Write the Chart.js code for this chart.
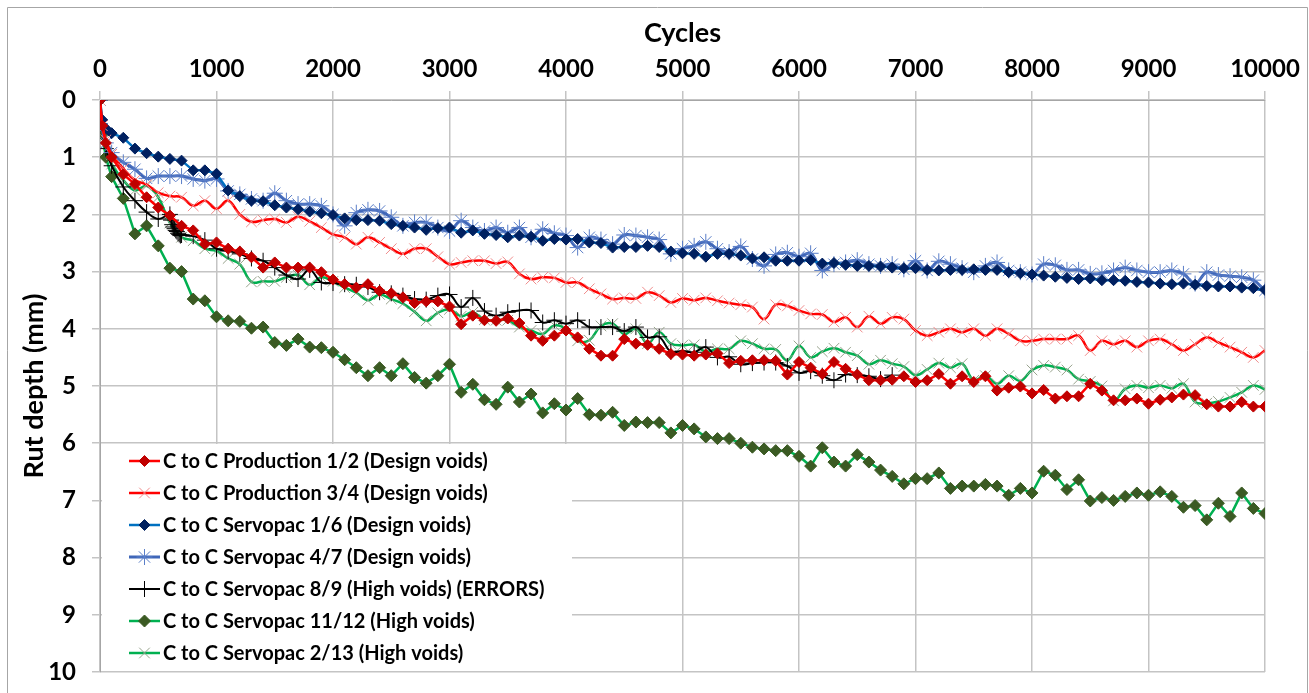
<!DOCTYPE html>
<html>
<head>
<meta charset="utf-8">
<script src="https://cdn.jsdelivr.net/npm/chart.js@4/dist/chart.umd.min.js"></script>
<style>
  html, body { margin: 0; padding: 0; background: #fff; }
  #wrap { width: 1309px; height: 693px; }
</style>
</head>
<body>
<div id="wrap"><canvas id="myChart" width="1309" height="693"></canvas></div>
<script>
// cycles at which most series were read
const cycles = [0, 20, 50,
  100, 200, 300, 400, 500, 600, 700, 800, 900, 1000,
  1100, 1200, 1300, 1400, 1500, 1600, 1700, 1800, 1900, 2000,
  2100, 2200, 2300, 2400, 2500, 2600, 2700, 2800, 2900, 3000,
  3100, 3200, 3300, 3400, 3500, 3600, 3700, 3800, 3900, 4000,
  4100, 4200, 4300, 4400, 4500, 4600, 4700, 4800, 4900, 5000,
  5100, 5200, 5300, 5400, 5500, 5600, 5700, 5800, 5900, 6000,
  6100, 6200, 6300, 6400, 6500, 6600, 6700, 6800, 6900, 7000,
  7100, 7200, 7300, 7400, 7500, 7600, 7700, 7800, 7900, 8000,
  8100, 8200, 8300, 8400, 8500, 8600, 8700, 8800, 8900, 9000,
  9100, 9200, 9300, 9400, 9500, 9600, 9700, 9800, 9900, 10000];

// 8/9 has extra readings around 600-700 cycles and stops at 6800
const cycles89 = [0, 20, 50,
  100, 200, 300, 400, 500, 600, 610, 620, 630, 640, 650, 660, 670, 680, 690, 700, 800, 900, 1000,
  1100, 1200, 1300, 1400, 1500, 1600, 1700, 1800, 1900, 2000,
  2100, 2200, 2300, 2400, 2500, 2600, 2700, 2800, 2900, 3000,
  3100, 3200, 3300, 3400, 3500, 3600, 3700, 3800, 3900, 4000,
  4100, 4200, 4300, 4400, 4500, 4600, 4700, 4800, 4900, 5000,
  5100, 5200, 5300, 5400, 5500, 5600, 5700, 5800, 5900, 6000,
  6100, 6200, 6300, 6400, 6500, 6600, 6700, 6800];

const xTicks = [0, 1000, 2000, 3000, 4000, 5000, 6000, 7000, 8000, 9000, 10000];

const prod12 = [0, 0.45, 0.75,
  1.00, 1.30, 1.47, 1.70, 1.88, 2.02, 2.20, 2.28, 2.52, 2.49,
  2.60, 2.65, 2.75, 2.93, 2.84, 2.93, 2.93, 2.93, 3.01, 3.14,
  3.22, 3.28, 3.22, 3.34, 3.38, 3.45, 3.55, 3.52, 3.52, 3.61,
  3.92, 3.77, 3.85, 3.86, 3.82, 3.90, 4.12, 4.21, 4.12, 4.03,
  4.15, 4.35, 4.47, 4.47, 4.18, 4.26, 4.28, 4.35, 4.44, 4.45,
  4.47, 4.45, 4.43, 4.60, 4.56, 4.55, 4.55, 4.56, 4.80, 4.58,
  4.68, 4.79, 4.58, 4.70, 4.80, 4.90, 4.90, 4.89, 4.83, 4.93,
  4.90, 4.79, 4.96, 4.83, 4.93, 4.83, 5.08, 5.03, 5.01, 5.13,
  5.07, 5.22, 5.18, 5.18, 4.96, 5.08, 5.25, 5.25, 5.22, 5.31,
  5.24, 5.20, 5.15, 5.16, 5.32, 5.36, 5.36, 5.28, 5.36, 5.36];

const prod34 = [0, 0.45, 0.70,
  0.95, 1.20, 1.40, 1.48, 1.62, 1.68, 1.70, 1.85, 1.76, 1.90,
  1.76, 2.00, 2.13, 2.10, 2.08, 2.14, 2.04, 2.12, 2.23, 2.35,
  2.40, 2.52, 2.40, 2.49, 2.60, 2.69, 2.60, 2.60, 2.74, 2.87,
  2.84, 2.81, 2.81, 2.86, 2.83, 3.04, 3.13, 3.10, 3.11, 3.19,
  3.19, 3.30, 3.39, 3.48, 3.46, 3.47, 3.36, 3.42, 3.54, 3.47,
  3.50, 3.46, 3.51, 3.55, 3.58, 3.62, 3.83, 3.58, 3.60, 3.68,
  3.74, 3.75, 3.88, 3.80, 3.97, 3.78, 3.91, 3.80, 3.83, 4.03,
  4.12, 4.06, 4.00, 4.06, 4.00, 4.12, 4.00, 4.09, 4.21, 4.21,
  4.18, 4.18, 4.18, 4.12, 4.38, 4.21, 4.27, 4.21, 4.32, 4.21,
  4.18, 4.27, 4.38, 4.27, 4.15, 4.24, 4.32, 4.41, 4.50, 4.38];

const servo16 = [0, 0.35, 0.50,
  0.58, 0.66, 0.85, 0.93, 0.99, 1.03, 1.06, 1.23, 1.23, 1.29,
  1.58, 1.68, 1.76, 1.77, 1.84, 1.88, 1.91, 1.95, 1.98, 2.01,
  2.07, 2.10, 2.10, 2.11, 2.17, 2.20, 2.23, 2.27, 2.24, 2.23,
  2.32, 2.28, 2.34, 2.36, 2.40, 2.37, 2.39, 2.46, 2.43, 2.44,
  2.43, 2.49, 2.50, 2.58, 2.57, 2.57, 2.55, 2.57, 2.65, 2.68,
  2.69, 2.74, 2.69, 2.69, 2.72, 2.77, 2.75, 2.81, 2.81, 2.81,
  2.80, 2.86, 2.85, 2.88, 2.90, 2.90, 2.91, 2.93, 2.94, 2.94,
  2.97, 2.98, 2.97, 2.97, 2.96, 2.97, 2.97, 3.01, 3.03, 3.05,
  3.07, 3.09, 3.11, 3.13, 3.12, 3.15, 3.15, 3.16, 3.18, 3.19,
  3.21, 3.22, 3.21, 3.23, 3.25, 3.26, 3.26, 3.28, 3.29, 3.32];

const servo47 = [0, 0.50, 0.75,
  0.92, 1.09, 1.21, 1.37, 1.33, 1.33, 1.33, 1.38, 1.41, 1.38,
  1.59, 1.65, 1.73, 1.76, 1.63, 1.76, 1.82, 1.82, 1.85, 2.00,
  2.20, 1.97, 1.92, 1.94, 2.05, 2.20, 2.14, 2.14, 2.23, 2.29,
  2.11, 2.23, 2.29, 2.23, 2.32, 2.23, 2.40, 2.26, 2.33, 2.37,
  2.58, 2.40, 2.44, 2.52, 2.36, 2.37, 2.40, 2.44, 2.69, 2.60,
  2.55, 2.48, 2.60, 2.66, 2.56, 2.78, 2.90, 2.70, 2.67, 2.74,
  2.68, 2.98, 2.87, 2.84, 2.80, 2.87, 2.90, 2.87, 2.96, 2.81,
  2.98, 2.82, 2.87, 2.94, 3.01, 2.90, 2.84, 2.98, 3.01, 3.05,
  2.87, 2.89, 2.97, 2.97, 3.04, 3.03, 2.98, 2.93, 2.98, 3.01,
  3.01, 2.98, 3.04, 3.21, 3.01, 3.06, 3.08, 3.10, 3.15, 3.33];

const servo89 = [0, 0.50, 0.85,
  1.15, 1.52, 1.76, 1.96, 2.08, 2.00, 2.10, 2.18, 2.22, 2.25, 2.28, 2.30, 2.33, 2.35, 2.37, 2.36, 2.38, 2.45, 2.60,
  2.64, 2.69, 2.77, 2.81, 2.93, 3.06, 3.13, 2.97, 3.19, 3.20,
  3.22, 3.23, 3.27, 3.36, 3.38, 3.42, 3.48, 3.49, 3.42, 3.40,
  3.62, 3.46, 3.69, 3.77, 3.71, 3.68, 3.68, 3.89, 3.85, 3.91,
  3.85, 3.97, 3.97, 3.97, 4.04, 3.97, 4.15, 4.14, 4.40, 4.39,
  4.41, 4.32, 4.50, 4.49, 4.62, 4.60, 4.59, 4.59, 4.65, 4.77,
  4.74, 4.82, 4.90, 4.80, 4.81, 4.83, 4.88, 4.81];

const servo1112 = [0, 0.60, 1.00,
  1.34, 1.72, 2.34, 2.20, 2.55, 2.94, 3.00, 3.48, 3.51, 3.79,
  3.86, 3.87, 3.99, 3.97, 4.24, 4.29, 4.18, 4.32, 4.33, 4.41,
  4.54, 4.68, 4.82, 4.68, 4.82, 4.61, 4.85, 4.95, 4.82, 4.62,
  5.11, 4.97, 5.24, 5.32, 5.02, 5.28, 5.14, 5.47, 5.31, 5.42,
  5.22, 5.50, 5.51, 5.46, 5.69, 5.63, 5.64, 5.64, 5.82, 5.69,
  5.75, 5.89, 5.92, 5.92, 6.00, 6.07, 6.10, 6.13, 6.13, 6.23,
  6.40, 6.08, 6.33, 6.40, 6.20, 6.33, 6.47, 6.58, 6.71, 6.62,
  6.62, 6.52, 6.79, 6.75, 6.75, 6.72, 6.75, 6.91, 6.79, 6.87,
  6.49, 6.56, 6.81, 6.64, 7.01, 6.95, 7.00, 6.93, 6.87, 6.91,
  6.85, 6.93, 7.12, 7.09, 7.34, 7.05, 7.28, 6.87, 7.14, 7.23];

const servo213 = [0, 0.55, 0.90,
  1.12, 1.40, 1.58, 1.50, 1.70, 2.15, 2.40, 2.46, 2.60, 2.64,
  2.77, 2.87, 3.18, 3.17, 3.17, 3.10, 3.06, 3.23, 3.10, 3.17,
  3.28, 3.37, 3.50, 3.40, 3.48, 3.56, 3.70, 3.86, 3.72, 3.66,
  3.78, 3.71, 3.84, 3.85, 3.85, 3.97, 4.03, 4.09, 3.94, 4.00,
  4.21, 4.20, 3.95, 3.91, 4.09, 4.00, 4.26, 4.06, 4.26, 4.29,
  4.28, 4.40, 4.35, 4.35, 4.21, 4.26, 4.35, 4.36, 4.55, 4.30,
  4.50, 4.40, 4.34, 4.41, 4.47, 4.62, 4.55, 4.61, 4.66, 4.81,
  4.71, 4.60, 4.68, 4.61, 4.90, 4.82, 4.96, 4.82, 4.91, 4.72,
  4.64, 4.67, 4.72, 4.88, 4.92, 5.00, 5.26, 5.05, 4.99, 5.03,
  4.99, 5.04, 4.96, 5.28, 5.30, 5.27, 5.20, 5.11, 4.99, 5.06];

const seriesNames = [
  "C to C Production 1/2 (Design voids)",
  "C to C Production 3/4 (Design voids)",
  "C to C Servopac 1/6 (Design voids)",
  "C to C Servopac 4/7 (Design voids)",
  "C to C Servopac 8/9 (High voids) (ERRORS)",
  "C to C Servopac 11/12 (High voids)",
  "C to C Servopac 2/13 (High voids)"
];

function toPoints(xs, ys) {
  return ys.map((v, i) => ({ x: xs[i], y: v }));
}

function makeSet(label, xs, ys, line, style, fill, edge, size, edgeWidth, lineWidth, tension) {
  return {
    label: label,
    data: toPoints(xs, ys),
    borderColor: line,
    borderWidth: lineWidth,
    tension: tension,
    pointStyle: style,
    pointRadius: size,
    pointHoverRadius: size,
    pointBackgroundColor: fill,
    pointBorderColor: edge,
    pointBorderWidth: edgeWidth,
    fill: false
  };
}

const datasets = [
  makeSet(seriesNames[0], cycles, prod12, '#ff0000', 'rectRot', '#c00000', '#c00000', 5.5, 1, 2.5, 0),
  makeSet(seriesNames[1], cycles, prod34, '#ff0000', 'crossRot', '#f4a4a4', '#f08c8c', 7.5, 1, 2.5, 0.4),
  makeSet(seriesNames[2], cycles, servo16, '#0070c0', 'rectRot', '#002060', '#002060', 5.5, 1, 2.5, 0),
  makeSet(seriesNames[3], cycles, servo47, '#3f66b8', 'star', '#5a7ec8', '#5a7ec8', 8, 1, 3, 0.4),
  makeSet(seriesNames[4], cycles89, servo89, '#000000', 'cross', '#000000', '#000000', 8, 1, 2, 0.4),
  makeSet(seriesNames[5], cycles, servo1112, '#00b050', 'rectRot', '#3b5a23', '#3b5a23', 6, 1, 2.5, 0),
  makeSet(seriesNames[6], cycles, servo213, '#00b050', 'crossRot', '#a3ad99', '#98a38d', 7.5, 1, 2.5, 0.4)
];

// white page with the thin frame round it
const framePlugin = {
  id: 'framePlugin',
  beforeDraw(chart) {
    const ctx = chart.ctx;
    ctx.save();
    ctx.fillStyle = '#fff';
    ctx.fillRect(0, 0, chart.width, chart.height);
    ctx.strokeStyle = '#a6a6a6';
    ctx.lineWidth = 1;
    ctx.beginPath();
    ctx.moveTo(7.5, chart.height);
    ctx.lineTo(7.5, 7.5);
    ctx.lineTo(chart.width - 1.5, 7.5);
    ctx.lineTo(chart.width - 1.5, chart.height);
    ctx.stroke();
    ctx.restore();
  }
};

// legend box sitting inside the plot, bottom left
const boxLegend = {
  id: 'boxLegend',
  afterDraw(chart) {
    const ctx = chart.ctx;
    const area = chart.chartArea;
    const top = area.bottom - 228;
    const rowGap = 32;
    ctx.save();
    ctx.fillStyle = '#fff';
    ctx.fillRect(area.left + 2, top, 470, area.bottom - top - 1);
    chart.data.datasets.forEach((ds, i) => {
      const y = top + 17 + i * rowGap;
      const x0 = area.left + 29;
      ctx.strokeStyle = ds.borderColor;
      ctx.lineWidth = ds.borderWidth;
      ctx.beginPath();
      ctx.moveTo(x0, y);
      ctx.lineTo(x0 + 31, y);
      ctx.stroke();
      ctx.fillStyle = ds.pointBackgroundColor;
      ctx.strokeStyle = ds.pointBorderColor;
      ctx.lineWidth = ds.pointBorderWidth;
      Chart.helpers.drawPoint(ctx, {
        pointStyle: ds.pointStyle, radius: ds.pointRadius,
        borderWidth: ds.pointBorderWidth, rotation: 0
      }, x0 + 15.5, y);
      ctx.fillStyle = '#000';
      ctx.font = 'bold 20px Lato';
      ctx.textBaseline = 'middle';
      ctx.textAlign = 'left';
      ctx.fillText(ds.label, x0 + 34, y + 1);
    });
    ctx.restore();
  }
};

Chart.defaults.font.family = 'Lato';
Chart.defaults.color = '#000';

new Chart("myChart", {
  type: 'line',
  data: { datasets: datasets },
  options: {
    responsive: false,
    animation: false,
    layout: { padding: { left: 8, top: 8, right: 44, bottom: 21 } },
    plugins: {
      legend: { display: false },
      tooltip: { enabled: false }
    },
    scales: {
      x: {
        type: 'linear',
        position: 'top',
        min: 0,
        max: 10000,
        afterBuildTicks(axis) { axis.ticks = xTicks.map(v => ({ value: v })); },
        ticks: {
          font: { size: 24, weight: 'bold' }, padding: 7, maxRotation: 0,
          callback: (v) => String(v)
        },
        grid: { color: '#c4c4c4', lineWidth: 1.5, tickLength: 9 },
        border: { color: '#a6a6a6' },
        title: { display: true, text: 'Cycles', font: { size: 27, weight: 'bold' }, padding: { top: 9, bottom: 0 } },
        afterFit(axis) { axis.height = 92; }
      },
      y: {
        reverse: true,
        min: 0,
        max: 10,
        ticks: { stepSize: 1, font: { size: 24, weight: 'bold' }, padding: 16 },
        grid: { color: '#c4c4c4', lineWidth: 1.5, tickLength: 8 },
        border: { color: '#a6a6a6' },
        title: { display: true, text: 'Rut depth (mm)', font: { size: 27, weight: 'bold' }, padding: { top: 10, bottom: 0 } },
        afterFit(axis) {
          axis.width = 92;
          axis.paddingTop = 0;
          axis.paddingBottom = 0;
        }
      }
    }
  },
  plugins: [framePlugin, boxLegend]
});
</script>
</body>
</html>
